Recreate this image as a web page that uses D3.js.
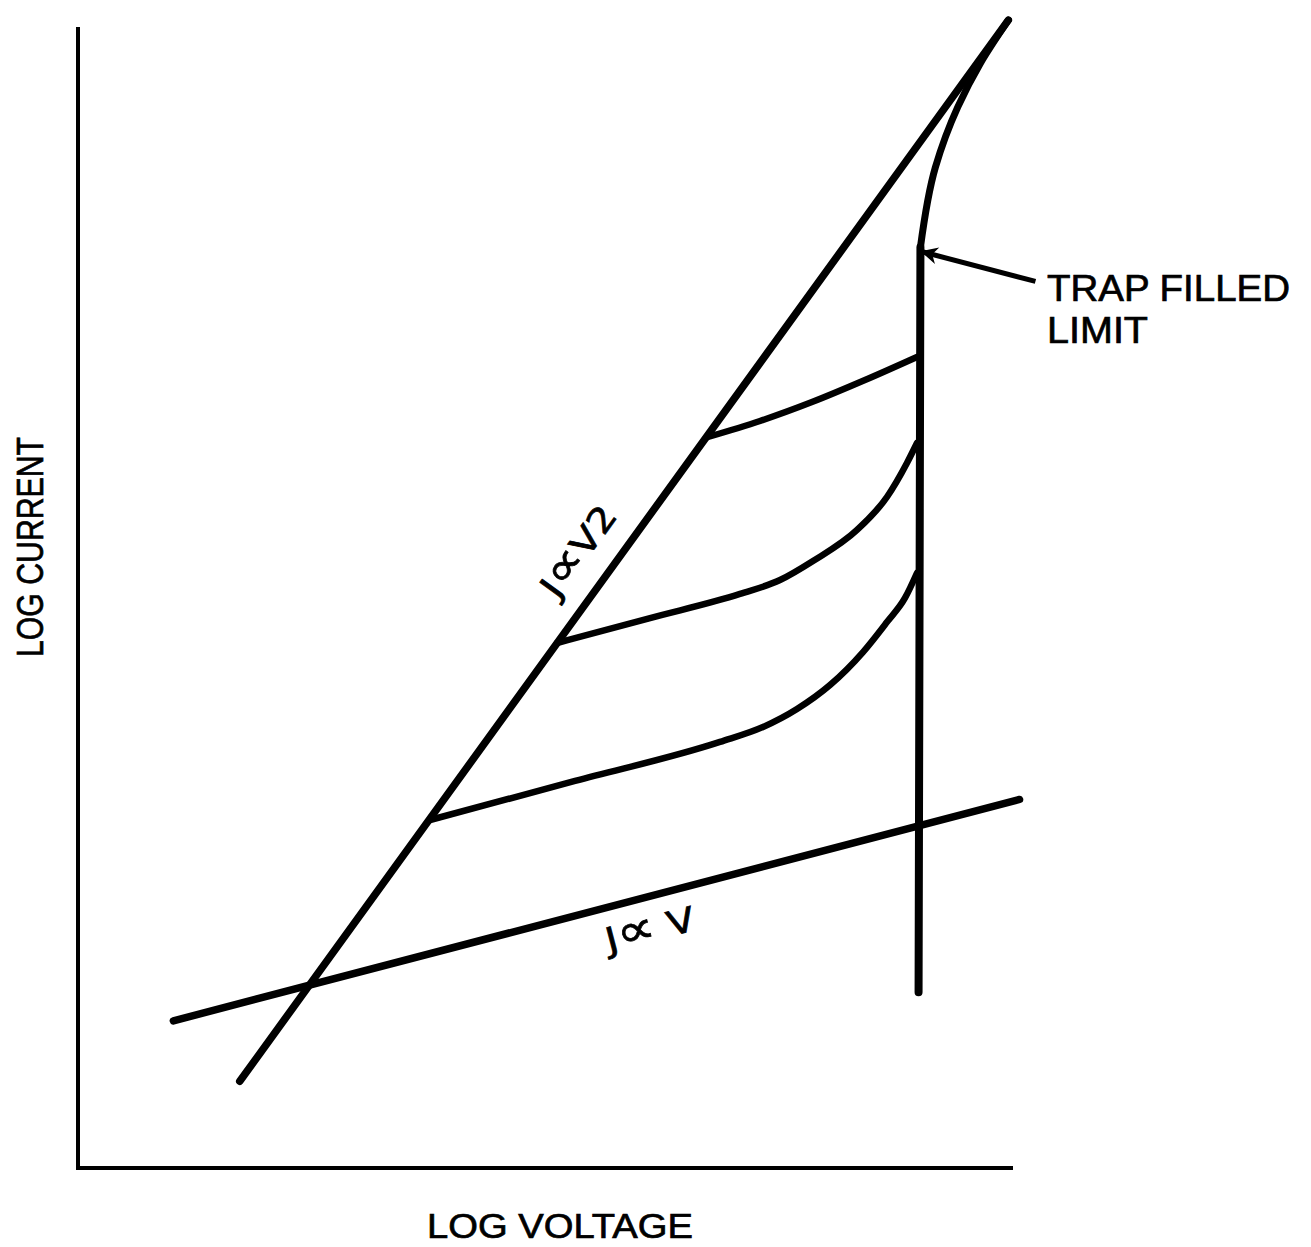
<!DOCTYPE html>
<html>
<head>
<meta charset="utf-8">
<script src="https://cdn.jsdelivr.net/npm/d3@7"></script>
<style>
  body { margin: 0; background: #fff; }
  text { font-family: "Liberation Sans", Arial, sans-serif; fill: #000; stroke: #000; stroke-width: 0.7; }
  text.law { font-family: "DejaVu Sans", sans-serif; }
</style>
</head>
<body>
<div id="chart"></div>
<script>
//all curves in abstract log units: logV on x (0..100), logJ on y (0..100)
var ohmicLine = [[10.2, 12.9], [100.7, 32.3]];          // J ∝ V
var childLine = [[17.3, 7.6], [99.5, 100.6]];           // J ∝ V2
var tflVertical = [[89.9, 15.4], [90.1, 80.7]];
var tflCurve = [[90.1, 80.7], [91.7, 87.7], [94.1, 93.0], [96.5, 96.8], [99.5, 100.6]];
var trapCurve1 = [[67.38, 64.07], [72.94, 65.47], [78.50, 67.13], [84.17, 69.06], [89.73, 71.08]];
var trapCurve2 = [[51.23, 46.01], [61.18, 48.20], [70.80, 50.31], [75.08, 51.53], [78.61, 53.20],
                  [83.32, 55.92], [86.52, 58.81], [88.66, 61.79], [89.73, 63.54]];
var trapCurve3 = [[37.65, 30.50], [53.16, 33.92], [68.66, 37.34], [73.26, 38.65], [76.90, 40.23],
                  [80.43, 42.33], [83.96, 45.22], [86.52, 47.85], [88.45, 49.96], [89.73, 52.15]];
var arrowLine = [[102.4, 77.7], [90.3, 80.3]];

var width = 1311, height = 1247;

var svg = d3.select("#chart").append("svg")
    .attr("width", width)
    .attr("height", height);

svg.append("rect").attr("width", width).attr("height", height).attr("fill", "#fff");

var xScale = d3.scaleLinear().domain([0, 100]).range([78, 1013]);
var yScale = d3.scaleLinear().domain([0, 100]).range([1168, 27]);

//arrow head for the trap filled limit pointer
svg.append("defs").append("marker")
    .attr("id", "arrow")
    .attr("viewBox", "0 0 10 10")
    .attr("refX", 9).attr("refY", 5)
    .attr("markerWidth", 5).attr("markerHeight", 3.4)
    .attr("markerUnits", "strokeWidth")
    .attr("orient", "auto")
    .append("path")
    .attr("d", "M0,0 L10,5 L0,10 L3,5 Z")
    .attr("fill", "#000");

//axes: just the L shaped frame, no ticks
svg.append("path")
    .attr("d", `M${xScale(0)},${yScale(100)} V${yScale(0)} H${xScale(100)}`)
    .attr("fill", "none")
    .attr("stroke", "#000")
    .attr("stroke-width", 4);

var line = d3.line().x(d => xScale(d[0])).y(d => yScale(d[1]));
var smoothX = d3.line().x(d => xScale(d[0])).y(d => yScale(d[1])).curve(d3.curveMonotoneX);
var smoothY = d3.line().x(d => xScale(d[0])).y(d => yScale(d[1])).curve(d3.curveMonotoneY);

function draw(data, gen, w) {
    return svg.append("path")
        .attr("d", gen(data))
        .attr("fill", "none")
        .attr("stroke", "#000")
        .attr("stroke-width", w)
        .attr("stroke-linecap", "round")
        .attr("stroke-linejoin", "round");
}

draw(ohmicLine, line, 7.5);
draw(childLine, line, 7.5);
draw(tflVertical, line, 8);
draw(tflCurve, smoothY, 7);
draw(trapCurve1, smoothX, 6.5);
draw(trapCurve2, smoothX, 6.5);
draw(trapCurve3, smoothX, 6.5);
draw(arrowLine, line, 5).attr("stroke-linecap", "butt").attr("marker-end", "url(#arrow)");

//axis titles
svg.append("text")
    .attr("x", 560).attr("y", 1238)
    .attr("text-anchor", "middle")
    .attr("font-size", 35)
    .attr("textLength", 266).attr("lengthAdjust", "spacingAndGlyphs")
    .text("LOG VOLTAGE");

svg.append("text")
    .attr("transform", "translate(43,547) rotate(-90)")
    .attr("text-anchor", "middle")
    .attr("font-size", 37)
    .attr("textLength", 220).attr("lengthAdjust", "spacingAndGlyphs")
    .text("LOG CURRENT");

//annotation
svg.append("text")
    .attr("x", 1047).attr("y", 300.5)
    .attr("font-size", 37)
    .attr("textLength", 243).attr("lengthAdjust", "spacingAndGlyphs")
    .text("TRAP FILLED");
svg.append("text")
    .attr("x", 1047).attr("y", 342.5)
    .attr("font-size", 37)
    .attr("textLength", 101).attr("lengthAdjust", "spacingAndGlyphs")
    .text("LIMIT");

//labels along the two power laws, with a bigger proportional sign
function lawLabel(t, tail, len) {
    var txt = svg.append("text").attr("class", "law")
        .attr("transform", t)
        .attr("text-anchor", "middle")
        .attr("font-size", 34)
        .attr("textLength", len).attr("lengthAdjust", "spacingAndGlyphs");
    txt.append("tspan").text("J");
    txt.append("tspan").attr("font-size", 46).text("\u221D");
    txt.append("tspan").text(tail);
}
lawLabel("translate(588,558) rotate(-54.1)", "V2", 104);
lawLabel("translate(653,941) rotate(-14.7)", " V", 91);
</script>
</body>
</html>
